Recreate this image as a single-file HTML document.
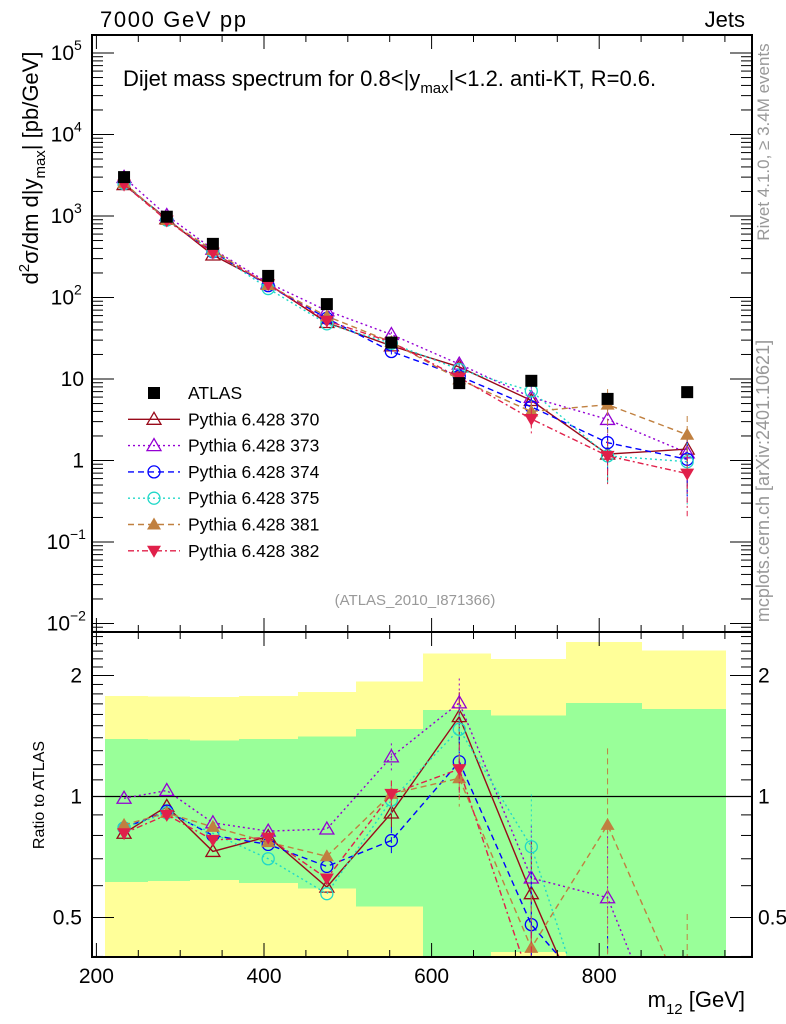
<!DOCTYPE html>
<html><head><meta charset="utf-8"><style>
html,body{margin:0;padding:0;background:#fff;width:786px;height:1024px;overflow:hidden}
svg{display:block;font-family:"Liberation Sans",sans-serif}
</style></head><body>
<svg id="c" width="786" height="1024" viewBox="0 0 786 1024" xmlns="http://www.w3.org/2000/svg">
<defs>
<clipPath id="cm"><rect x="92" y="35" width="660" height="597"/></clipPath>
<clipPath id="cr"><rect x="92" y="633" width="660" height="324"/></clipPath>
</defs>
<g id="bands" clip-path="url(#cr)" shape-rendering="crispEdges"></g>
<g id="mainG" clip-path="url(#cm)"></g>
<g id="ratioG" clip-path="url(#cr)"></g>
<g id="axes"></g>
<g id="legend"></g>
<text x="100" y="27" font-size="22" textLength="146">7000 GeV pp</text>
<text x="745" y="27" font-size="22" text-anchor="end">Jets</text>
<text x="123" y="86" font-size="22">Dijet mass spectrum for 0.8&lt;|y<tspan font-size="15" dy="7">max</tspan><tspan dy="-7">|&lt;1.2.  anti-KT, R=0.6.</tspan></text>
<text x="415" y="605" font-size="15" fill="#999" text-anchor="middle">(ATLAS_2010_I871366)</text>
<text transform="translate(38,168) rotate(-90)" font-size="22" text-anchor="middle">d<tspan font-size="15" dy="-9">2</tspan><tspan dy="9">σ/dm d|y</tspan><tspan font-size="15" dy="7">max</tspan><tspan dy="-7">| [pb/GeV]</tspan></text>
<text transform="translate(44,795) rotate(-90)" font-size="16" text-anchor="middle">Ratio to ATLAS</text>
<text x="745" y="1007" font-size="22" text-anchor="end">m<tspan font-size="15" dy="7">12</tspan><tspan dy="-7"> [GeV]</tspan></text>
<text transform="translate(769,142) rotate(-90)" font-size="17" fill="#999" text-anchor="middle">Rivet 4.1.0, ≥ 3.4M events</text>
<text transform="translate(769,481) rotate(-90)" font-size="18" fill="#999" text-anchor="middle">mcplots.cern.ch [arXiv:2401.10621]</text>
</svg>
<script>
const masses=[233,284,339,405,475,552,633,719,810,905];
const atlas=[3000,980,455,184,83,28,8.9,9.5,5.7,6.9];
const r370=[0.81,0.945,0.73,0.795,0.595,0.91,1.58,0.573,0.21,0.2];
const r373=[0.99,1.035,0.86,0.82,0.83,1.255,1.71,0.627,0.56,0.18];
const r374=[0.835,0.92,0.80,0.76,0.67,0.777,1.22,0.48,0.29,0.15];
const r375=[0.835,0.91,0.81,0.70,0.573,0.98,1.47,0.75,0.2,0.14];
const r381=[0.85,0.91,0.84,0.77,0.71,1.015,1.11,0.42,0.85,0.3];
const r382=[0.81,0.9,0.78,0.79,0.625,1.015,1.17,0.34,0.2,0.1];
const relErr=[0.01,0.01,0.02,0.03,0.05,0.08,0.15,0.35,0.55,0.7];
const binEdges=[210,260,310,370,440,510,590,670,760,850,950];
const yellowHi=[1.78,1.775,1.77,1.78,1.82,1.93,2.27,2.2,2.42,2.31];
const greenHi=[1.39,1.385,1.38,1.39,1.41,1.47,1.64,1.59,1.71,1.65];
const greenLo=[0.613,0.616,0.62,0.61,0.59,0.533,0.3,0.41,0.3,0.3];
const yellowLo=[0.3,0.3,0.3,0.3,0.3,0.3,0.3,0.3,0.3,0.3];
const xTicks=[200,400,600,800];

const NS="http://www.w3.org/2000/svg";
const X=m=>264+(m-400)*0.838;
const Y=v=>460.5-81.5*Math.log10(v);
const YR=r=>796.5-121*Math.log2(r);
function mk(p,t,a){const e=document.createElementNS(NS,t);for(const k in a)e.setAttribute(k,a[k]);p.appendChild(e);return e;}
const bands=document.getElementById('bands'),mainG=document.getElementById('mainG'),ratioG=document.getElementById('ratioG'),axes=document.getElementById('axes'),legend=document.getElementById('legend');

for(let i=0;i<binEdges.length-1;i++){
 const x0=Math.round(X(binEdges[i])),x1=Math.round(X(binEdges[i+1]))+1;
 const y=mk(bands,'rect',{x:x0,y:YR(yellowHi[i]),width:x1-x0,height:YR(yellowLo[i])-YR(yellowHi[i]),fill:'#ffff99'});
 
 
}
for(let i=0;i<binEdges.length-1;i++){
 const x0=Math.round(X(binEdges[i])),x1=Math.round(X(binEdges[i+1]))+1;
 const g=mk(bands,'rect',{x:x0,y:YR(greenHi[i]),width:x1-x0,height:YR(greenLo[i])-YR(greenHi[i]),fill:'#99ff99'});
 
 
}

const series=[
 {n:'370',r:r370,c:'#990a1a',d:'',m:'tri-open'},
 {n:'373',r:r373,c:'#9400d3',d:'2,3',m:'tri-open'},
 {n:'374',r:r374,c:'#0000ff',d:'6,4',m:'circ'},
 {n:'375',r:r375,c:'#20d8c8',d:'2,3',m:'circ'},
 {n:'381',r:r381,c:'#c08040',d:'6,4',m:'tri-fill'},
 {n:'382',r:r382,c:'#e0204a',d:'6,3,2,3',m:'tri-down'}
];
function marker(p,type,x,y,c){
 let e;
 if(type==='tri-open') e=mk(p,'polygon',{points:`${x},${y-7} ${x-7},${y+5} ${x+7},${y+5}`,fill:'none',stroke:c,'stroke-width':1.3});
 else if(type==='tri-fill') e=mk(p,'polygon',{points:`${x},${y-7} ${x-7},${y+5} ${x+7},${y+5}`,fill:c});
 else if(type==='tri-down') e=mk(p,'polygon',{points:`${x},${y+7} ${x-7},${y-5} ${x+7},${y-5}`,fill:c});
 else if(type==='circ') e=mk(p,'circle',{cx:x,cy:y,r:6,fill:'none',stroke:c,'stroke-width':1.3});
 else e=mk(p,'rect',{x:x-6,y:y-6,width:12,height:12,fill:'#000'});
 return e;
}
const rl=mk(ratioG,'line',{x1:92,x2:752,y1:YR(1),y2:YR(1),stroke:'#000','stroke-width':1.2});



series.forEach(s=>{
 const vals=s.r.map((r,i)=>r*atlas[i]);
 const lp=mk(mainG,'polyline',{points:vals.map((v,i)=>X(masses[i])+','+Y(v)).join(' '),fill:'none',stroke:s.c,'stroke-width':1.4,'stroke-dasharray':s.d});
 
 
 const rp=mk(ratioG,'polyline',{points:s.r.map((r,i)=>X(masses[i])+','+YR(r)).join(' '),fill:'none',stroke:s.c,'stroke-width':1.4,'stroke-dasharray':s.d});
 
 
 vals.forEach((v,i)=>{
  const x=X(masses[i]),e=relErr[i];
  if(e>0.05){
   const eb=mk(mainG,'line',{x1:x,x2:x,y1:Y(v*(1+e)),y2:Y(Math.max(v*(1-e),v*0.05)),stroke:s.c,'stroke-width':1,'stroke-dasharray':s.d});
   
   
   const rb=mk(ratioG,'line',{x1:x,x2:x,y1:YR(s.r[i]*(1+e)),y2:YR(Math.max(s.r[i]*(1-e),0.05)),stroke:s.c,'stroke-width':1,'stroke-dasharray':s.d});
   
   
  }
  const mm=marker(mainG,s.m,x,Y(v),s.c);
  
  
  const rm=marker(ratioG,s.m,x,YR(s.r[i]),s.c);
  
  
 });
});
atlas.forEach((v,i)=>{
 const a=marker(mainG,'sq',X(masses[i]),Y(v),'#000');
 
 
});

[[35,632],[632,957]].forEach(f=>{
 const r=mk(axes,'rect',{x:92,y:f[0],width:660,height:f[1]-f[0],fill:'none',stroke:'#000','stroke-width':2});
 
 
});
for(let m=200;m<=975;m+=50){
 const x=X(m),big=m%200===0;const L=big?14:7;
 [[632,632-L],[632,632+L],[957,957-L],[35,35+L]].forEach(t=>{mk(axes,'line',{x1:x,x2:x,y1:t[0],y2:t[1],stroke:'#000','stroke-width':1});});
}
xTicks.forEach(m=>{
 const t=mk(axes,'text',{x:X(m),y:983,'font-size':21,'text-anchor':'middle'});t.textContent=m;
 
 
});
for(let e=-3;e<=5;e++){for(let k=1;k<10;k++){
 const v=k*Math.pow(10,e),y=Y(v);if(y<35||y>632)continue;const L=k===1?22:11;
 mk(axes,'line',{x1:92,x2:92+L,y1:y,y2:y,stroke:'#000','stroke-width':1});
 mk(axes,'line',{x1:752,x2:752-L,y1:y,y2:y,stroke:'#000','stroke-width':1});
}}
const ylabs=[[5,'10','5'],[4,'10','4'],[3,'10','3'],[2,'10','2'],[1,'10',''],[0,'1',''],[-1,'10','−1'],[-2,'10','−2']];
ylabs.forEach(l=>{
 const t=mk(axes,'text',{x:l[2]?(l[2].length>1?70:74):84,y:Y(Math.pow(10,l[0]))+7,'font-size':21,'text-anchor':'end'});
 t.textContent=l[1];
 
 
 if(l[2]){const s=mk(axes,'text',{x:l[2].length>1?70:74,y:Y(Math.pow(10,l[0]))-3,'font-size':14});s.textContent=l[2];}
});
[0.4,0.5,0.6,0.7,0.8,0.9,1,1.1,1.2,1.3,1.4,1.5,1.6,1.7,1.8,1.9,2,2.1,2.2,2.3,2.4,2.5].forEach(r=>{
 const y=YR(r);if(y<633||y>957)return;const big=(r===0.5||r===1||r===2);const L=big?22:11;
 mk(axes,'line',{x1:92,x2:92+L,y1:y,y2:y,stroke:'#000','stroke-width':1});
 mk(axes,'line',{x1:752,x2:752-L,y1:y,y2:y,stroke:'#000','stroke-width':1});
});
[['2',2],['1',1],['0.5',0.5]].forEach(l=>{
 const t=mk(axes,'text',{x:82,y:YR(l[1])+7,'font-size':21,'text-anchor':'end'});t.textContent=l[0];
 
 
 const t2=mk(axes,'text',{x:758,y:YR(l[1])+7,'font-size':21});t2.textContent=l[0];
 
 
});
const leg=[{n:'ATLAS',m:'sq',c:'#000',d:null}].concat(series.map(s=>({n:'Pythia 6.428 '+s.n,m:s.m,c:s.c,d:s.d})));
leg.forEach((l,i)=>{
 const y=393+i*26.3;
 if(l.d!==null){const ln=mk(legend,'line',{x1:128,x2:180,y1:y,y2:y,stroke:l.c,'stroke-width':1.4,'stroke-dasharray':l.d});
  
  }
 const mm=marker(legend,l.m,154,y,l.c);
 
 
 const t=mk(legend,'text',{x:188,y:y+6,'font-size':17.5});t.textContent=l.n;
 
 
});
</script>
</body></html>
